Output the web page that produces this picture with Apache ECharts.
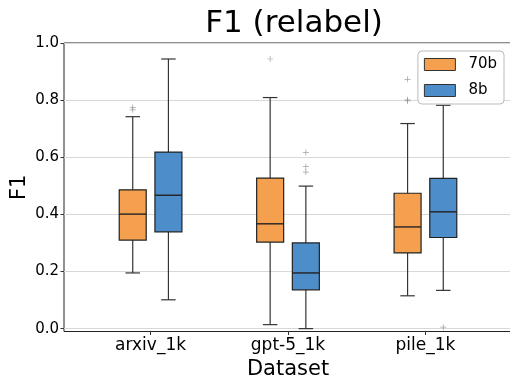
<!DOCTYPE html>
<html><head><meta charset="utf-8">
<script src="https://cdn.jsdelivr.net/npm/echarts@6/dist/echarts.min.js"></script>
<style>html,body{margin:0;padding:0;background:#fff}#c{width:510px;height:377px}</style>
</head><body><div id="c"></div>
<script>
const categories = ['arxiv_1k', 'gpt-5_1k', 'pile_1k'];
const seriesNames = ['70b', '8b'];
// [min whisker, Q1, median, Q3, max whisker]
const box70b = [
  [0.195, 0.310, 0.401, 0.486, 0.742],
  [0.014, 0.303, 0.367, 0.527, 0.809],
  [0.115, 0.265, 0.356, 0.474, 0.718]
];
const box8b = [
  [0.101, 0.339, 0.467, 0.618, 0.944],
  [0.000, 0.136, 0.195, 0.300, 0.499],
  [0.134, 0.319, 0.409, 0.526, 0.782]
];
// [category index, value]
const outliers70b = [[0, 0.774], [0, 0.766], [1, 0.944], [2, 0.873], [2, 0.801], [2, 0.797]];
const outliers8b = [[1, 0.617], [1, 0.567], [1, 0.548], [2, 0.005]];
const yTicks = [0, 0.2, 0.4, 0.6, 0.8, 1.0];

const COLORS = ['#F5A04F', '#4D8DC9'];
const BOX_W = 27, CAP_W = 14.5, OFFSET = 17.85;
const FONT = 'DejaVu Sans';

function boxData(arr) { return arr.map((b, i) => [i].concat(b)); }

function renderer(offset, color) {
  return function (params, api) {
    const x = api.coord([api.value(0), 0])[0] + offset;
    const y = k => api.coord([0, api.value(k)])[1];
    const yMin = y(1), yQ1 = y(2), yMed = y(3), yQ3 = y(4), yMax = y(5);
    const lineStyle = { stroke: '#333', lineWidth: 1.2 };
    return {
      type: 'group',
      children: [
        { type: 'line', shape: { x1: x, y1: yQ1, x2: x, y2: yMin }, style: lineStyle },
        { type: 'line', shape: { x1: x, y1: yQ3, x2: x, y2: yMax }, style: lineStyle },
        { type: 'line', shape: { x1: x - CAP_W / 2, y1: yMin, x2: x + CAP_W / 2, y2: yMin }, style: lineStyle },
        { type: 'line', shape: { x1: x - CAP_W / 2, y1: yMax, x2: x + CAP_W / 2, y2: yMax }, style: lineStyle },
        { type: 'rect', shape: { x: x - BOX_W / 2, y: yQ3, width: BOX_W, height: yQ1 - yQ3 },
          style: { fill: color, stroke: '#222', lineWidth: 1.2 } },
        { type: 'line', shape: { x1: x - BOX_W / 2, y1: yMed, x2: x + BOX_W / 2, y2: yMed }, style: { stroke: '#222', lineWidth: 1.4 } }
      ]
    };
  };
}

const PLUS = 'path://M0,4.4H10V5.6H0Z M4.4,0H5.6V10H4.4Z';

const chart = echarts.init(document.getElementById('c'), null, { renderer: 'canvas' });
chart.setOption({
  animation: false,
  backgroundColor: '#fff',
  textStyle: { fontFamily: FONT },
  title: {
    text: 'F1 (relabel)', left: 289, top: 3, textAlign: 'center',
    textStyle: { fontFamily: FONT, fontSize: 31, fontWeight: 'normal', color: '#000' }
  },
  legend: {
    data: seriesNames, right: 6, top: 51, orient: 'vertical',
    itemWidth: 31, itemHeight: 12, itemGap: 11, icon: 'rect',
    padding: [6, 7, 6, 6],
    backgroundColor: 'rgba(255,255,255,0.85)', borderColor: '#bbb', borderWidth: 1, borderRadius: 4,
    itemStyle: { borderWidth: 1, borderColor: '#333' },
    textStyle: { fontFamily: FONT, fontSize: 15, color: '#000', padding: [0, 0, 0, 8] }
  },
  grid: { left: 64, right: -2, top: 43, bottom: 45.5, outerBoundsMode: 'none', containLabel: false,
    show: true, borderColor: '#222', borderWidth: 1, backgroundColor: 'transparent' },
  xAxis: {
    type: 'value', min: -0.63, max: 2.63,
    name: 'Dataset', nameLocation: 'middle', nameGap: 25,
    nameTextStyle: { fontFamily: FONT, fontSize: 21, color: '#000' },
    axisLine: { show: false, onZero: false },
    axisTick: { show: true, customValues: [0, 1, 2], length: 3.5, lineStyle: { color: '#333' } },
    axisLabel: { customValues: [0, 1, 2], formatter: v => categories[Math.round(v)] || '', fontFamily: FONT, fontSize: 17, color: '#000', margin: 6 },
    splitLine: { show: false }
  },
  yAxis: {
    type: 'value', min: -0.01, max: 1.0,
    name: 'F1', nameLocation: 'middle', nameGap: 34, nameMoveOverlap: false,
    nameTextStyle: { fontFamily: FONT, fontSize: 21, color: '#000' },
    axisLine: { show: false, onZero: false },
    axisTick: { show: true, customValues: yTicks, length: 3.5, lineStyle: { color: '#333' } },
    axisLabel: { customValues: yTicks, formatter: v => v.toFixed(1), fontFamily: FONT, fontSize: 15, color: '#000', margin: 5 },
    splitLine: { show: true, lineStyle: { color: '#d8d8d8', width: 1 } }
  },
  series: [
    { name: '70b', type: 'custom', data: boxData(box70b), encode: { x: 0, y: [1, 2, 3, 4, 5] },
      renderItem: renderer(-OFFSET, COLORS[0]), itemStyle: { color: COLORS[0], borderColor: '#222', borderWidth: 1 }, z: 3 },
    { name: '8b', type: 'custom', data: boxData(box8b), encode: { x: 0, y: [1, 2, 3, 4, 5] },
      renderItem: renderer(OFFSET, COLORS[1]), itemStyle: { color: COLORS[1], borderColor: '#222', borderWidth: 1 }, z: 3 },
    { name: '70b outliers', type: 'scatter', data: outliers70b, symbol: PLUS, symbolSize: 6,
      symbolOffset: [-OFFSET, 0], itemStyle: { color: '#8a8a8a' }, z: 4 },
    { name: '8b outliers', type: 'scatter', data: outliers8b, symbol: PLUS, symbolSize: 6,
      symbolOffset: [OFFSET, 0], itemStyle: { color: '#8a8a8a' }, z: 4 }
  ]
});
</script></body></html>
